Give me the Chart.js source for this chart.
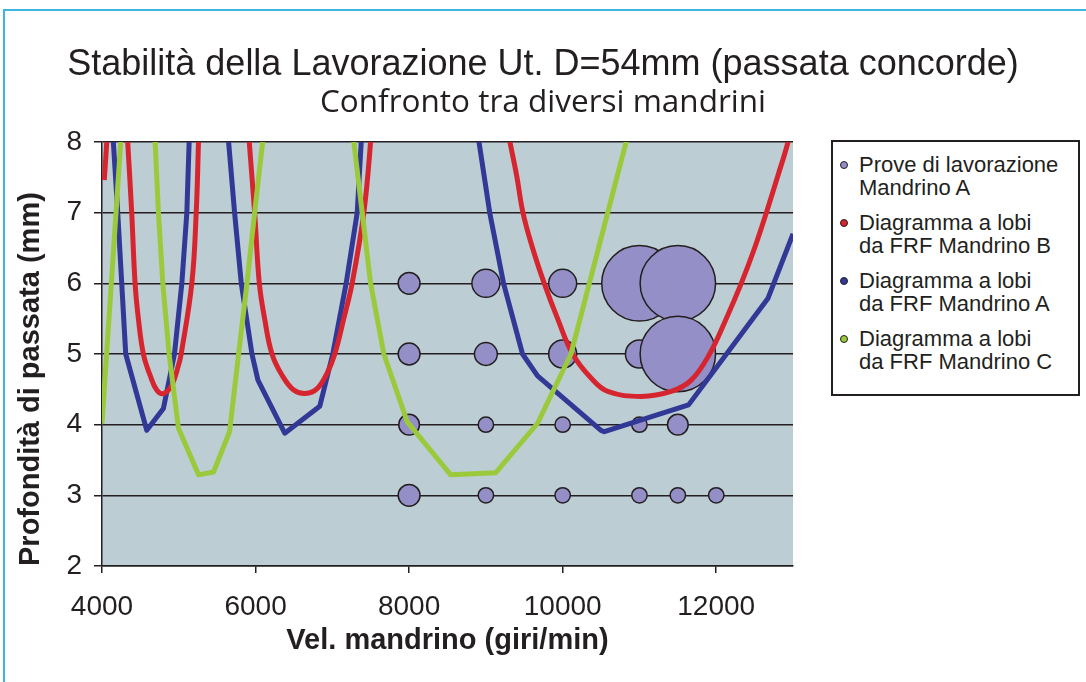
<!DOCTYPE html>
<html lang="it">
<head>
<meta charset="utf-8">
<title>Stabilità della Lavorazione Ut. D=54mm</title>
<script src="https://cdn.jsdelivr.net/npm/chart.js@4.4.1/dist/chart.umd.min.js"></script>
<style>
  html, body { margin: 0; padding: 0; background: #fff; }
  body {
    width: 1086px; height: 682px; position: relative; overflow: hidden;
    font-family: "Liberation Sans", Arial, sans-serif; color: #231f20;
  }
  #frame {
    position: absolute; left: 3px; top: 9px; right: -10px; bottom: -10px;
    border-left: 2px solid #3db5e1; border-top: 2px solid #3db5e1;
  }
  #chart { position: absolute; left: 0; top: 0; }
  #legend {
    position: absolute; left: 831px; top: 140px; width: 245px; height: 241px;
    border: 2px solid #231f20; background: #fff; padding-top: 11px;
    box-sizing: content-box;
  }
  #legend .item { display: flex; align-items: flex-start; margin-bottom: 12px; }
  #legend .dot {
    flex: none; width: 6px; height: 6px; border-radius: 50%;
    border: 1px solid #231f20; margin: 8px 11px 0 7px;
  }
  #legend .text { font-size: 22px; line-height: 23px; white-space: pre-line; }
</style>
</head>
<body>
<div id="frame"></div>
<canvas id="chart" width="1086" height="682"></canvas>
<div id="legend"></div>

<script>
"use strict";

// ── Data ──────────────────────────────────────────────────────────────────
const xTicks = [4000, 6000, 8000, 10000, 12000];
const yTicks = [2, 3, 4, 5, 6, 7, 8];

// Prove di lavorazione – Mandrino A (giri/min, mm, dimensione bolla)
const proveRpm   = [8000, 9000, 10000, 11000, 11500,
                    8000, 9000, 10000, 11000, 11500,
                    8000, 9000, 10000, 11000, 11500,
                    8000, 9000, 10000, 11000, 11500, 12000];
const proveDepth = [6, 6, 6, 6, 6,
                    5, 5, 5, 5, 5,
                    4, 4, 4, 4, 4,
                    3, 3, 3, 3, 3, 3];
const proveSize  = [2, 3.3, 3.3, 24, 24,
                    2, 2.2, 3.3, 3.3, 24,
                    1.8, 1, 1, 1, 1.8,
                    2, 1, 1, 1, 1, 1];

// Diagramma a lobi da FRF Mandrino B (null = interruzione tra i lobi)
const lobiB_rpm = [4030, 4062, 4090, null,
                   4283, 4335, 4387, 4431, 4474, 4539, 4626, 4713, 4800, 4909, 4996, 5031, 5170, 5227, 5257, 5287, null,
                   5850, 5918, 5988, 6049, 6118, 6214, 6345, 6497, 6649, 6802, 6932, 7032, 7149, 7258, 7410, 7498, 7560, null,
                   9130, 9313, 9400, 9483, 9608, 9760, 9934, 10130, 10369, 10587, 11021, 11413, 11674,
                   11913, 12130, 12326, 12500, 12653, 12805, 12935, 13000];
const lobiB_mm  = [7.46, 8.0, 8.5, null,
                   9.0, 8.0, 7.0, 6.0, 5.5, 5.0, 4.70, 4.49, 4.44, 4.56, 4.84, 5.0, 6.0, 7.0, 8.0, 9.0, null,
                   9.0, 8.0, 7.0, 6.0, 5.5, 5.0, 4.70, 4.49, 4.44, 4.51, 4.73, 5.0, 5.5, 6.0, 7.0, 8.0, 9.0, null,
                   9.0, 8.0, 7.53, 7.0, 6.5, 6.0, 5.5, 5.0, 4.66, 4.47, 4.40, 4.47, 4.63,
                   5.0, 5.5, 6.0, 6.5, 7.0, 7.53, 8.0, 8.35];

// Diagramma a lobi da FRF Mandrino A
const lobiA_rpm = [4091, 4148, 4205, 4257, 4309, 4583, 4800, 4944, 5040, 5105, 5135, 5165, null,
                   5571, 5649, 5727, 5814, 5953, 6031, 6380, 6836, 7006, 7180, 7324, 7376, 7428, null,
                   8780, 8910, 9050, 9230, 9477, 9673, 10499, 10543, 11640, 12675, 13000];
const lobiA_mm  = [9.0, 8.0, 7.0, 6.0, 5.0, 3.92, 4.23, 5.0, 6.0, 7.0, 8.0, 9.0, null,
                   9.0, 8.0, 7.0, 6.0, 5.0, 4.63, 3.88, 4.26, 5.0, 6.0, 7.0, 8.0, 9.0, null,
                   9.0, 8.0, 7.0, 6.0, 5.0, 4.69, 3.92, 3.90, 4.28, 5.79, 6.70];

// Diagramma a lobi da FRF Mandrino C
const lobiC_rpm = [4000, 4262, null,
                   4680, 4692, 4735, 4792, 4874, 4996, 5257, 5453, 5661, 5779, 5888, 5988, 6092, 6115, null,
                   7255, 7280, 7389, 7498, 7671, 7976, 8542, 9129, 9673, 10108, 10347, 10587, 10826, 10850];
const lobiC_mm  = [4.02, 8.3, null,
                   8.3, 8.0, 7.0, 6.0, 5.0, 3.95, 3.29, 3.33, 3.90, 5.0, 6.0, 7.0, 8.0, 8.25, null,
                   8.2, 8.0, 7.0, 6.0, 5.0, 4.04, 3.29, 3.32, 4.02, 5.0, 6.0, 7.0, 8.0, 8.1];

// ── Helpers ───────────────────────────────────────────────────────────────
const INK  = "#231f20";
const FONT = "'Liberation Sans', Arial, sans-serif";

const toPoints = (xs, ys) => xs.map((x, i) => ({ x, y: ys[i] }));
const bubbleRadius = v => 7.7 * Math.sqrt(v);   // area proportional to value

function lobeSeries(label, xs, ys, color, order, tension) {
  return {
    type: "scatter",
    label,
    data: toPoints(xs, ys),
    showLine: true,
    borderColor: color,
    backgroundColor: color,
    borderWidth: 5,
    borderJoinStyle: "round",
    pointRadius: 0,
    tension,
    spanGaps: false,
    clip: 0,
    order,
  };
}

// ── Plot background ───────────────────────────────────────────────────────
const plotBackground = {
  id: "plotBackground",
  beforeDraw(chart) {
    const { ctx, chartArea: a } = chart;
    ctx.save();
    ctx.fillStyle = "#bccdd4";
    ctx.fillRect(a.left, a.top, a.right - a.left, a.bottom - a.top);
    ctx.restore();
  },
};

// ── Chart ─────────────────────────────────────────────────────────────────
const chart = new Chart(document.getElementById("chart"), {
  type: "scatter",
  data: {
    datasets: [
      {
        type: "bubble",
        label: "Prove di lavorazione\nMandrino A",
        data: proveRpm.map((x, i) => ({ x, y: proveDepth[i], r: bubbleRadius(proveSize[i]) })),
        backgroundColor: "#948fc6",
        borderColor: INK,
        borderWidth: 1.5,
        clip: 0,
        order: 3,
      },
      lobeSeries("Diagramma a lobi\nda FRF Mandrino B", lobiB_rpm, lobiB_mm, "#d6252e", 1, 0.4),
      lobeSeries("Diagramma a lobi\nda FRF Mandrino A", lobiA_rpm, lobiA_mm, "#323896", 2, 0),
      lobeSeries("Diagramma a lobi\nda FRF Mandrino C", lobiC_rpm, lobiC_mm, "#9aca3c", 0, 0),
    ],
  },
  options: {
    responsive: false,
    animation: false,
    events: [],
    layout: { padding: 0 },
    elements: { line: { capBezierPoints: false } },
    plugins: {
      legend: { display: false },
      tooltip: { enabled: false },
      title: {
        display: true,
        text: "Stabilità della Lavorazione Ut. D=54mm (passata concorde)",
        color: INK,
        font: { family: FONT, size: 36, weight: "normal", lineHeight: 1 },
        padding: { top: 47, bottom: 0 },
      },
      subtitle: {
        display: true,
        text: "Confronto tra diversi mandrini",
        color: INK,
        font: { family: "'Open Sans', sans-serif", size: 31.5, weight: "normal", lineHeight: 1 },
        padding: { top: 4, bottom: 23.5 },
      },
    },
    scales: {
      x: {
        type: "linear",
        min: 4000,
        max: 13000,
        afterBuildTicks: s => { s.ticks = xTicks.map(value => ({ value })); },
        afterFit: s => { s.height = 116; },
        grid: { drawOnChartArea: false, drawTicks: true, tickLength: 7, color: INK, lineWidth: 1.5 },
        border: { display: true, color: INK, width: 1.5 },
        ticks: {
          color: INK,
          padding: 17,
          maxRotation: 0,
          font: { family: FONT, size: 28 },
          callback: v => String(v),
        },
        title: {
          display: true,
          text: "Vel. mandrino (giri/min)",
          color: INK,
          font: { family: FONT, size: 29, weight: "bold", lineHeight: 1 },
          padding: { top: 0, bottom: 26.5 },
        },
      },
      y: {
        type: "linear",
        min: 2,
        max: 8,
        afterBuildTicks: s => { s.ticks = yTicks.map(value => ({ value })); },
        afterFit: s => { s.width = 102; },
        grid: { drawOnChartArea: true, drawTicks: true, tickLength: 8, color: INK, lineWidth: 1.5 },
        border: { display: true, color: INK, width: 1.5 },
        ticks: {
          color: INK,
          padding: 12,
          font: { family: FONT, size: 28 },
          callback: v => String(v),
        },
        title: {
          display: true,
          align: "start",
          text: "Profondità di passata (mm)",
          color: INK,
          font: { family: FONT, size: 29, weight: "bold", lineHeight: 1 },
          padding: { top: 16.5, bottom: 0 },
        },
      },
      // room on the right for the legend box
      yGap: {
        type: "linear",
        position: "right",
        grid: { display: false },
        border: { display: false },
        ticks: { display: false },
        afterFit: s => { s.width = 293; },
      },
    },
  },
  plugins: [plotBackground],
});

// ── Legend (HTML, multi-line labels) ──────────────────────────────────────
function buildLegend(chart) {
  const box = document.getElementById("legend");
  chart.data.datasets.forEach(ds => {
    const item = document.createElement("div");
    item.className = "item";
    const dot = document.createElement("span");
    dot.className = "dot";
    dot.style.background = ds.type === "bubble" ? ds.backgroundColor : ds.borderColor;
    const text = document.createElement("span");
    text.className = "text";
    text.textContent = ds.label;
    item.append(dot, text);
    box.appendChild(item);
  });
}
buildLegend(chart);
</script>
</body>
</html>
